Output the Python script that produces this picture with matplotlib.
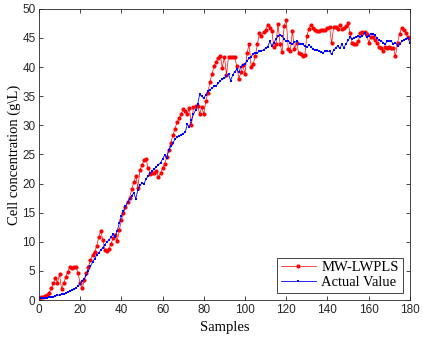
import matplotlib.pyplot as plt
import numpy as np

# データ
samples = np.arange(0, 181)

mw_lwpls = [
    0.3, 0.5, 0.6, 0.7, 0.9, 1.3, 2.0, 2.9, 3.8, 3.0,
    4.4, 1.9, 2.9, 3.9, 4.9, 5.7, 5.5, 5.6, 5.6, 4.6,
    2.9, 2.0, 3.4, 4.6, 5.7, 6.8, 7.7, 8.3, 9.2, 10.8,
    11.8, 10.4, 8.6, 8.4, 8.8, 9.7, 10.6, 11.1, 10.2, 12.0,
    13.7, 14.9, 15.9, 16.8, 17.6, 19.0, 20.2, 21.3, 19.3, 22.3,
    23.2, 24.0, 24.2, 22.6, 21.7, 21.9, 21.8, 22.2, 21.1, 21.8,
    22.6, 23.4, 24.5, 25.8, 27.0, 28.3, 29.4, 30.5, 31.2, 32.0,
    32.8, 32.4, 32.0, 32.9, 30.0, 33.1, 33.3, 33.3, 32.0, 33.1,
    32.0, 34.2, 35.6, 37.5, 38.8, 40.2, 40.9, 41.6, 41.9, 39.9,
    41.8, 38.7, 41.8, 41.8, 41.8, 41.7, 40.2, 38.0, 39.1, 40.3,
    38.8, 42.5, 43.9, 40.0, 40.6, 41.9, 43.9, 45.9, 45.4, 46.0,
    46.4, 47.3, 46.8, 46.2, 43.4, 43.9, 47.4, 44.0, 42.6, 47.1,
    48.1, 43.1, 42.8, 46.2, 43.1, 44.2, 42.5, 42.2, 41.9, 42.0,
    45.4, 46.5, 47.3, 46.8, 46.4, 46.2, 46.2, 46.3, 46.3, 46.4,
    46.8, 46.9, 44.1, 46.9, 46.9, 46.6, 47.3, 46.5, 46.8, 47.1,
    47.5, 45.9, 44.2, 44.0, 44.0, 44.5, 45.9, 46.0, 46.0, 45.7,
    44.2, 45.1, 45.1, 44.6, 44.2, 43.4, 43.2, 42.8, 43.4, 43.2,
    43.4, 43.3, 43.2, 41.9, 44.2, 45.7, 46.8, 46.4, 45.9, 45.1,
    45.0,
]

actual = [
    0.2, 0.3, 0.3, 0.4, 0.4, 0.5, 0.6, 0.6, 0.7, 0.8,
    0.9, 1.0, 1.1, 1.2, 1.4, 1.5, 1.7, 1.9, 2.1, 2.4,
    2.8, 3.2, 3.7, 4.3, 5.0, 5.8, 6.5, 7.1, 7.7, 8.1,
    8.6, 9.0, 9.5, 10.0, 10.3, 10.8, 11.3, 10.9, 11.9, 13.2,
    14.4, 15.3, 16.1, 16.8, 17.4, 17.9, 18.4, 17.4, 18.9, 19.7,
    20.1, 20.0, 20.8, 21.3, 21.8, 22.2, 22.5, 22.9, 23.2, 23.6,
    24.2, 24.9, 24.4, 25.8, 26.4, 27.0, 27.6, 28.0, 28.2, 28.4,
    28.6, 28.8, 30.2, 29.7, 30.9, 31.9, 32.6, 33.6, 35.3, 35.0,
    34.7, 35.2, 35.9, 36.1, 36.4, 36.7, 36.8, 37.2, 37.7, 37.9,
    38.1, 38.5, 38.8, 37.7, 38.6, 39.2, 39.6, 39.1, 40.1, 40.4,
    40.6, 41.1, 41.5, 41.8, 42.3, 42.5, 42.5, 42.7, 42.8, 42.9,
    43.3, 43.5, 44.4, 43.7, 44.2, 44.8, 45.3, 45.5, 45.3, 44.8,
    44.4, 44.5, 44.2, 43.9, 44.3, 44.4, 44.0, 44.0, 43.9, 43.6,
    43.4, 43.8, 43.5, 43.1, 43.0, 42.9, 42.8, 42.6, 42.5, 42.8,
    42.7, 42.7, 42.2, 42.9, 43.3, 43.6, 43.2, 43.9, 43.3, 44.0,
    44.6, 45.1, 44.8, 45.0, 45.1, 45.3, 45.1, 45.4, 45.8, 45.1,
    45.4, 45.6, 45.7, 45.5, 45.0, 44.6, 44.5, 44.2, 44.0, 44.4,
    44.4, 44.4, 44.0, 44.2, 43.6, 43.9, 44.4, 44.6, 44.8, 45.0,
    44.2,
]

# グラフ設定
plt.rcParams["font.family"] = ["Liberation Sans", "DejaVu Sans"]
plt.rcParams["xtick.direction"] = "in"
plt.rcParams["ytick.direction"] = "in"

fig = plt.figure(figsize=(4.23, 3.41), dpi=100)
ax = fig.add_axes([0.092, 0.12, 0.877, 0.854])

ax.plot(samples, mw_lwpls, "-", color="red", lw=0.5, marker="o", ms=3.0,
        mec="red", mfc="red", mew=0, label="MW-LWPLS")
ax.plot(samples, actual, "-", color="blue", lw=0.6, marker="s", ms=1.8,
        mec="blue", mfc="blue", mew=0, label="Actual Value")

ax.set_xlim(0, 180)
ax.set_ylim(0, 50)
ax.set_xticks(np.arange(0, 181, 20))
ax.set_yticks(np.arange(0, 51, 5))
ax.tick_params(which="both", top=True, right=True, length=3, width=0.6,
               labelsize=8.5, colors="#262626", pad=2.5)
for s in ax.spines.values():
    s.set_linewidth(0.6)
    s.set_color("#262626")

ax.set_xlabel("Samples", family="Liberation Serif", fontsize=10.5, labelpad=4)
ax.set_ylabel("Cell concentration (g\\L)", family="Liberation Serif",
              fontsize=10.5, labelpad=1)

leg = ax.legend(loc="lower right", prop={"family": "Liberation Serif", "size": 10.5},
                fancybox=False, edgecolor="#262626", framealpha=1,
                borderpad=0.25, handlelength=2.4, handletextpad=0.4,
                labelspacing=0.1, borderaxespad=0.5)
leg.get_frame().set_linewidth(0.6)

fig.savefig("out.png", dpi=100)
